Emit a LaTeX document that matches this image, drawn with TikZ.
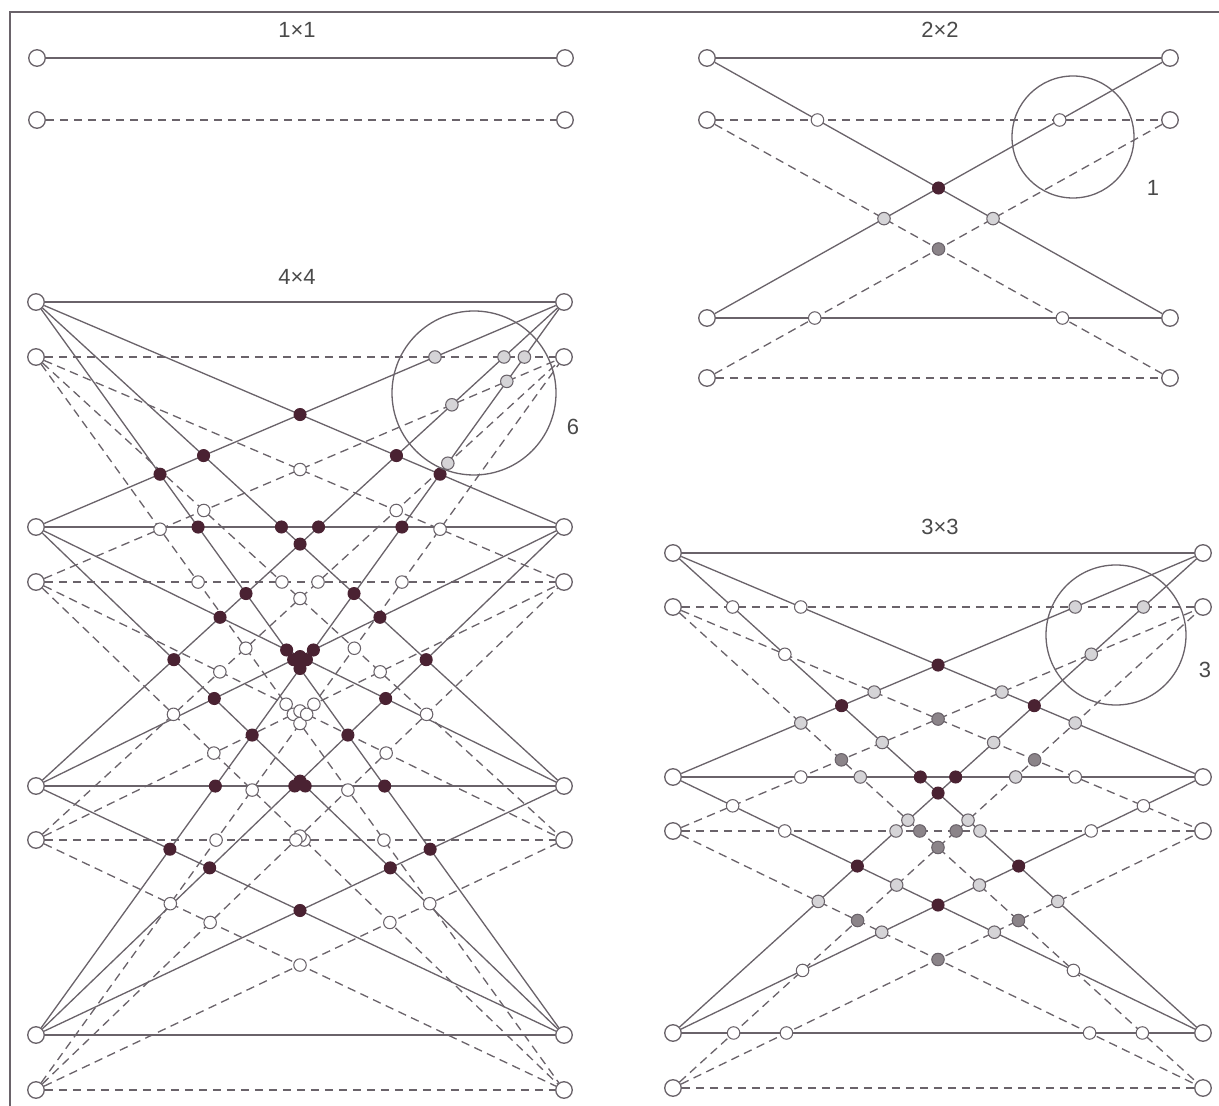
\documentclass[tikz,border=0pt]{standalone}
\usepackage{fontspec}
\setmainfont{Liberation Sans}
\definecolor{linegray}{HTML}{6A636A}
\definecolor{plumdark}{HTML}{4A2232}
\definecolor{midgray}{HTML}{8B8489}
\definecolor{palegray}{HTML}{D5D4D7}
\definecolor{textgray}{HTML}{4A4A4A}

\begin{document}
\begin{tikzpicture}[
    x=0.2mm, y=-0.2mm,
    sline/.style={draw=linegray, line width=0.75pt},
    dline/.style={sline, dash pattern=on 1.7mm off 1.1mm},
    port/.style={circle, draw=linegray, fill=white, line width=0.75pt, inner sep=0pt, minimum size=3.3mm},
    xmark/.style={circle, draw=linegray, line width=0.6pt, inner sep=0pt, minimum size=2.5mm},
    smark/.style={xmark, draw=plumdark, fill=plumdark, minimum size=2.4mm},
    dmark/.style={xmark, fill=midgray},
    lmark/.style={xmark, fill=palegray},
    wmark/.style={xmark, fill=white},
    ring/.style={circle, draw=linegray, line width=0.75pt, inner sep=0pt},
    lbl/.style={text=textgray, font=\fontsize{12.5}{14}\selectfont}
  ]
    \useasboundingbox (0,0) rectangle (1219,1106);
    \draw[linegray, line width=0.6pt] (10,1106) |- (1219,12);

    % ports: solid origin/destination with its dashed partner below
    \node[port] (oneLs1) at (37,58) {};
    \node[port] (oneLd1) at (37,120) {};
    \node[port] (oneRs1) at (565,58) {};
    \node[port] (oneRd1) at (565,120) {};
    \foreach \n/\ys/\yd in {1/58/120, 2/318/378}{
      \node[port] (twoLs\n) at (707,\ys) {};
      \node[port] (twoLd\n) at (707,\yd) {};
      \node[port] (twoRs\n) at (1170,\ys) {};
      \node[port] (twoRd\n) at (1170,\yd) {};
    }
    \foreach \n/\ys/\yd in {1/553/607, 2/777/831, 3/1033/1088}{
      \node[port] (threeLs\n) at (673,\ys) {};
      \node[port] (threeLd\n) at (673,\yd) {};
      \node[port] (threeRs\n) at (1203,\ys) {};
      \node[port] (threeRd\n) at (1203,\yd) {};
    }
    \foreach \n/\ys/\yd in {1/302/357, 2/527/582, 3/786/840, 4/1035/1090}{
      \node[port] (fourLs\n) at (36,\ys) {};
      \node[port] (fourLd\n) at (36,\yd) {};
      \node[port] (fourRs\n) at (564,\ys) {};
      \node[port] (fourRd\n) at (564,\yd) {};
    }

    \foreach \p/\N in {one/1, two/2, three/3, four/4}{
      % every origin to every destination
      \foreach \i in {1,...,\N}{
        \foreach \j in {1,...,\N}{
          \draw[sline] (\p Ls\i) -- (\p Rs\j);
          \draw[dline] (\p Ld\i) -- (\p Rd\j);
        }
      }
      % crossing points
      \foreach \i in {1,...,\N}{
        \foreach \j in {1,...,\N}{
          \foreach \k in {1,...,\N}{
            \foreach \l in {1,...,\N}{
              \ifnum\i<\k \ifnum\j>\l
                \node[smark] (\p s\i\j\k\l) at (intersection cs: first line={(\p Ls\i)--(\p Rs\j)}, second line={(\p Ls\k)--(\p Rs\l)}) {};
                \ifnum\N=4
                  \node[wmark] (\p d\i\j\k\l) at (intersection cs: first line={(\p Ld\i)--(\p Rd\j)}, second line={(\p Ld\k)--(\p Rd\l)}) {};
                \else
                  \node[dmark] (\p d\i\j\k\l) at (intersection cs: first line={(\p Ld\i)--(\p Rd\j)}, second line={(\p Ld\k)--(\p Rd\l)}) {};
                \fi
              \fi\fi
              \pgfmathtruncatemacro\cross{((\i<=\k)&&(\j>\l))||((\i>\k)&&(\j<=\l))}
              \pgfmathtruncatemacro\kind{(\N==4) ? (((\j==1)&&(\l==1)&&(\i>\k)) ? 2 : 0) : (((\i==\k)||((\j==\l)&&(\j>\N-2))) ? 1 : 2)}
              \ifnum\cross=1
                \ifcase\kind\or
                  \node[wmark] (\p x\i\j\k\l) at (intersection cs: first line={(\p Ls\i)--(\p Rs\j)}, second line={(\p Ld\k)--(\p Rd\l)}) {};
                \or
                  \node[lmark] (\p x\i\j\k\l) at (intersection cs: first line={(\p Ls\i)--(\p Rs\j)}, second line={(\p Ld\k)--(\p Rd\l)}) {};
                \fi
              \fi
            }
          }
        }
      }
    }

    % highlighted conflicts
    \node[ring, minimum size=24.4mm] (twoRing) at (1073,137) {};
    \node[ring, minimum size=28mm] (threeRing) at (1116,635) {};
    \node[ring, minimum size=32.8mm] (fourRing) at (474,393) {};
    \node[lbl] (twoCount) at (1153,188) {1};
    \node[lbl] (threeCount) at (1205,670) {3};
    \node[lbl] (fourCount) at (573,427) {6};

    \node[lbl] (oneTitle) at (297,30) {1×1};
    \node[lbl] (twoTitle) at (940,30) {2×2};
    \node[lbl] (fourTitle) at (297,277) {4×4};
    \node[lbl] (threeTitle) at (940,527) {3×3};
  \end{tikzpicture}
\end{document}
